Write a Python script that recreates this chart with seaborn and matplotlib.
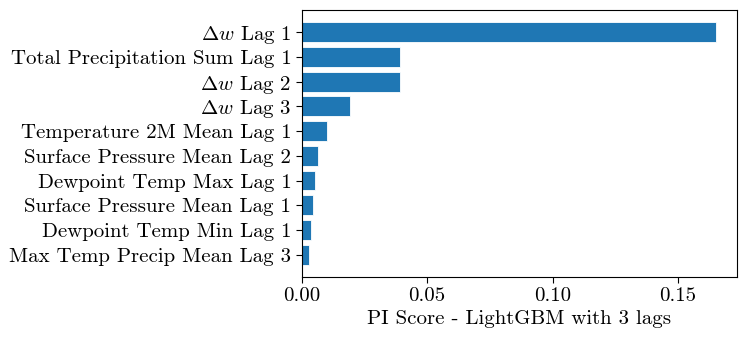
import pandas as pd
import matplotlib
matplotlib.use("Agg")
import matplotlib.pyplot as plt
import seaborn as sns

features = [
    r"$\Delta w$ Lag 1",
    "Total Precipitation Sum Lag 1",
    r"$\Delta w$ Lag 2",
    r"$\Delta w$ Lag 3",
    "Temperature 2M Mean Lag 1",
    "Surface Pressure Mean Lag 2",
    "Dewpoint Temp Max Lag 1",
    "Surface Pressure Mean Lag 1",
    "Dewpoint Temp Min Lag 1",
    "Max Temp Precip Mean Lag 3",
]
pi_scores = [0.1653, 0.0390, 0.0390, 0.0192, 0.0101, 0.0064, 0.0053, 0.0045, 0.0035, 0.0029]

sns.set_style("ticks")
plt.rcParams["font.family"] = ["cmr10", "DejaVu Serif"]
plt.rcParams["mathtext.fontset"] = "cm"
plt.rcParams["axes.unicode_minus"] = False
plt.rcParams["axes.formatter.use_mathtext"] = True
plt.rcParams["text.color"] = "black"
plt.rcParams["xtick.color"] = "black"
plt.rcParams["ytick.color"] = "black"
plt.rcParams["axes.labelcolor"] = "black"

FS = 15

df = pd.DataFrame({"feature": features, "score": pi_scores})

fig, ax = plt.subplots(figsize=(7.47, 3.4), dpi=100)
sns.barplot(data=df, y="feature", x="score", orient="h", color="#1f77b4",
            saturation=1, width=0.8, edgecolor="white", linewidth=0.6, ax=ax)
ax.set_xlim(0, max(pi_scores) * 1.05)
ax.set_ylim(len(features) - 0.5 + 0.4, -0.5 - 0.4)
ax.set_ylabel("")
ax.set_xlabel("PI Score - LightGBM with 3 lags", fontsize=FS, labelpad=3)
ax.tick_params(labelsize=FS, length=4, width=0.8, color="black", labelcolor="black")
for s in ax.spines.values():
    s.set_visible(True)
    s.set_color("black")
    s.set_linewidth(0.8)
ax.set_xticks([0.0, 0.05, 0.10, 0.15])
ax.set_xticklabels(["0.00", "0.05", "0.10", "0.15"])

fig.subplots_adjust(left=0.404, right=0.9866, top=0.971, bottom=0.185)
fig.savefig("out.png", dpi=100)
